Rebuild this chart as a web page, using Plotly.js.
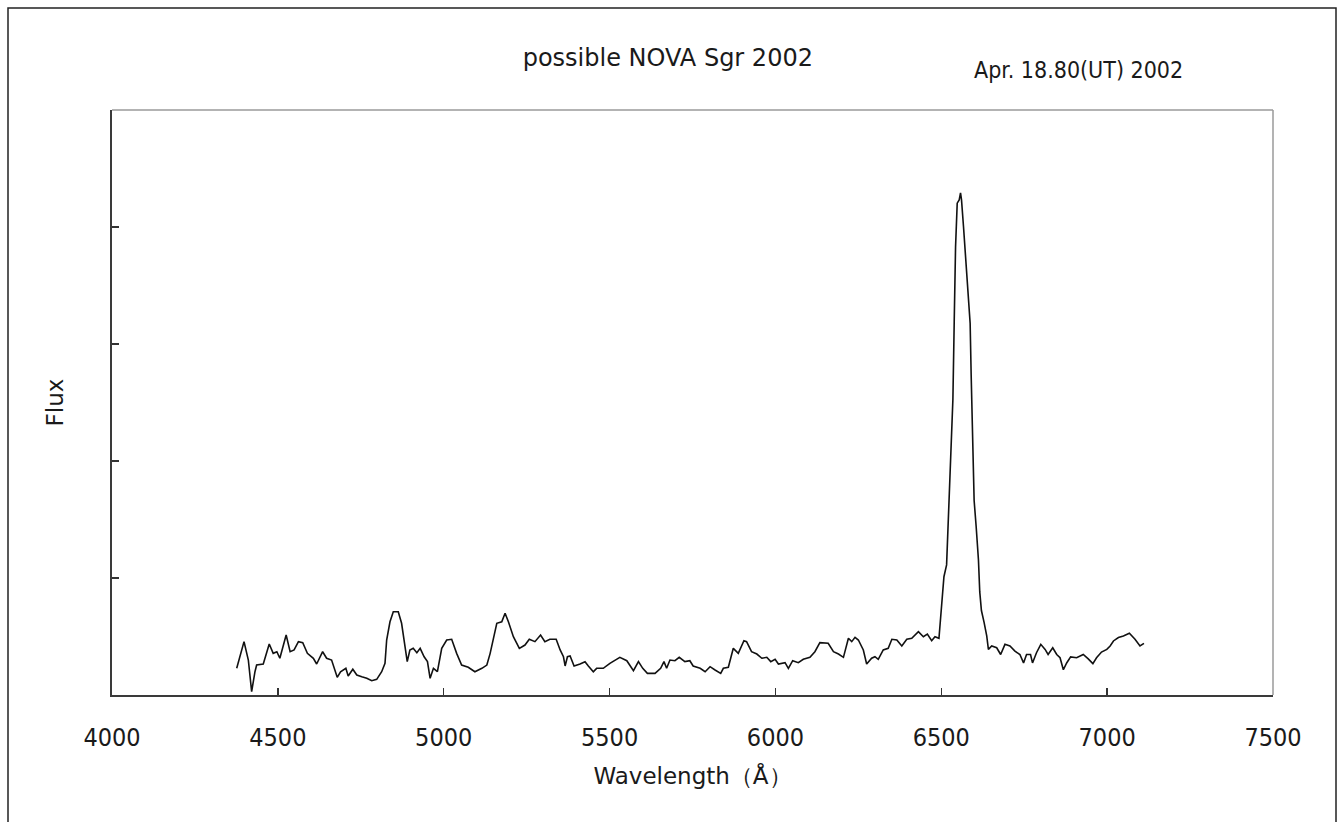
<!DOCTYPE html>
<html>
<head>
<meta charset="utf-8">
<script src="https://cdn.plot.ly/plotly-3.0.1.min.js"></script>
<style>
  html, body { margin: 0; padding: 0; background: #fff; }
  #chart { width: 1341px; height: 822px; }
</style>
</head>
<body>
<div id="chart"></div>
<script>
// Wavelength (Angstrom) samples
var wavelength = [
  4376,4398,4411,4421,4431,4436,4456,4474,4486,4497,
  4506,4525,4537,4549,4562,4575,4589,4607,4617,4635,
  4647,4662,4679,4689,4705,4712,4726,4738,4753,4768,
  4783,4798,4813,4823,4828,4838,4848,4863,4873,4883,
  4890,4898,4908,4919,4929,4941,4951,4959,4969,4981,
  4994,5009,5024,5039,5054,5074,
  5094,5115,5130,5140,5150,5160,5175,5185,5195,5210,
  5228,5245,5258,5275,5292,5305,5320,5339,5351,5361,
  5366,5373,5381,5393,5411,5426,5436,5451,5461,5481,
  5501,5531,5552,5572,5587,5600,5614,5637,5654,5664,
  5672,5682,5697,5710,5727,5742,5752,5773,5788,5803,
  5818,5835,
  5843,5858,5873,5888,5905,5913,5928,5944,5959,5974,
  5986,5999,6009,6029,6039,6052,6069,6084,6104,6119,
  6134,6159,6175,6190,6205,6213,6220,6230,6240,6250,
  6265,6275,6290,6300,6310,6325,6340,6351,6366,6381,
  6396,6411,6431,6446,6458,6471,6481,6493,
  6496,6501,6508,6516,6521,6529,6535,6539,6543,6548,
  6554,6558,6561,6567,6575,6582,6587,6590,6595,6599,
  6605,6612,6616,6621,6629,6637,6642,6652,6667,6679,
  6692,6707,6722,6737,6748,6757,6769,6775,6787,6800,
  6813,6822,6836,6848,6858,6868,6878,6890,6908,6928,
  6943,6957,6968,6983,6999,7009,7019,7034,7049,7067,
  7084,7099,7111
];

// Relative flux (arbitrary units, axis 0..5)
var flux = [
  0.228,0.456,0.299,0.028,0.199,0.256,0.265,0.436,0.356,0.370,
  0.314,0.513,0.370,0.385,0.456,0.447,0.356,0.314,0.265,0.370,
  0.314,0.299,0.151,0.199,0.228,0.162,0.220,0.171,0.156,0.143,
  0.122,0.134,0.199,0.271,0.470,0.626,0.712,0.712,0.613,0.399,
  0.285,0.385,0.399,0.362,0.399,0.327,0.285,0.143,0.228,0.199,
  0.399,0.470,0.476,0.356,0.256,0.237,
  0.199,0.228,0.256,0.356,0.498,0.613,0.626,0.698,0.626,0.498,
  0.399,0.427,0.476,0.456,0.513,0.456,0.476,0.476,0.385,0.327,
  0.248,0.327,0.333,0.248,0.265,0.285,0.248,0.199,0.228,0.228,
  0.271,0.322,0.293,0.208,0.285,0.228,0.185,0.185,0.228,0.285,
  0.228,0.299,0.293,0.322,0.285,0.293,0.248,0.228,0.199,0.242,
  0.214,0.185,
  0.228,0.237,0.399,0.356,0.464,0.456,0.370,0.350,0.314,0.322,
  0.285,0.305,0.265,0.276,0.228,0.293,0.276,0.305,0.322,0.370,
  0.447,0.442,0.370,0.350,0.322,0.399,0.485,0.456,0.493,0.470,
  0.385,0.265,0.314,0.327,0.305,0.385,0.399,0.476,0.470,0.419,
  0.476,0.485,0.541,0.498,0.521,0.464,0.498,0.485,
  0.592,0.794,1.011,1.112,1.459,1.993,2.528,3.192,3.828,4.204,
  4.232,4.291,4.232,4.002,3.684,3.395,3.178,2.744,2.094,1.662,
  1.444,1.156,0.881,0.722,0.621,0.505,0.390,0.419,0.404,0.346,
  0.433,0.419,0.375,0.346,0.274,0.346,0.346,0.274,0.361,0.433,
  0.390,0.346,0.404,0.346,0.318,0.216,0.274,0.326,0.318,0.346,
  0.309,0.268,0.318,0.367,0.390,0.419,0.462,0.491,0.505,0.528,
  0.477,0.419,0.442
];

var xTickVals = [4000, 4500, 5000, 5500, 6000, 6500, 7000, 7500];
var xTickText = ["4000", "4500", "5000", "5500", "6000", "6500", "7000", "7500"];
var yTickVals = [0, 1, 2, 3, 4, 5];

var titleText = "possible NOVA Sgr 2002";
var dateText = "Apr. 18.80(UT) 2002";
var xTitle = "Wavelength（Å）";
var yTitle = "Flux";

var trace = {
  x: wavelength,
  y: flux,
  type: "scatter",
  mode: "lines",
  line: { color: "#111111", width: 1.6 },
  hoverinfo: "x+y"
};

var textFont = { family: "DejaVu Sans, Liberation Sans, sans-serif", size: 23, color: "#1a1a1a" };

var layout = {
  width: 1341,
  height: 822,
  paper_bgcolor: "#ffffff",
  plot_bgcolor: "#ffffff",
  showlegend: false,
  margin: { l: 112, r: 68, t: 110, b: 127, pad: 0 },
  title: {
    text: titleText,
    font: { family: "DejaVu Sans, Liberation Sans, sans-serif", size: 24, color: "#1a1a1a" },
    xref: "container", x: 0.498, xanchor: "center",
    yref: "container", y: 1 - 58 / 822, yanchor: "middle"
  },
  xaxis: {
    range: [4000, 7500],
    tickmode: "array",
    tickvals: xTickVals,
    ticktext: xTickText,
    ticks: "inside",
    ticklen: 7,
    tickwidth: 1.5,
    tickcolor: "#333333",
    ticklabelstandoff: 19,
    tickfont: { family: "DejaVu Sans Condensed, DejaVu Sans, sans-serif", size: 25, color: "#1a1a1a" },
    showline: true,
    linecolor: "#3a3a3a",
    linewidth: 2,
    showgrid: false,
    zeroline: false,
    fixedrange: true,
    title: {
      text: xTitle,
      font: textFont,
      standoff: 17
    }
  },
  yaxis: {
    range: [0, 5],
    tickmode: "array",
    tickvals: yTickVals,
    ticks: "inside",
    ticklen: 7,
    tickwidth: 1.5,
    tickcolor: "#333333",
    showticklabels: false,
    showline: true,
    linecolor: "#3a3a3a",
    linewidth: 2,
    showgrid: false,
    zeroline: false,
    fixedrange: true,
    title: {
      text: yTitle,
      font: textFont,
      standoff: 40
    }
  },
  annotations: [
    {
      text: dateText,
      xref: "paper", yref: "paper",
      x: (1078 - 112) / 1161, y: (695 - 70) / 585,
      xanchor: "center", yanchor: "middle",
      showarrow: false,
      font: { family: "DejaVu Sans Condensed, DejaVu Sans, sans-serif", size: 23, color: "#1a1a1a" }
    }
  ],
  shapes: [
    // top and right edges of the plot frame (lighter grey)
    { type: "line", xref: "paper", yref: "paper", x0: 0, x1: 1, y0: 1, y1: 1,
      line: { color: "#9a9a9a", width: 1.5 } },
    { type: "line", xref: "paper", yref: "paper", x0: 1, x1: 1, y0: 0, y1: 1,
      line: { color: "#9a9a9a", width: 1.5 } },
    // outer picture frame
    { type: "rect", xref: "paper", yref: "paper",
      x0: (8 - 112) / 1161, x1: (1336 - 112) / 1161,
      y0: (695 - 860) / 585, y1: (695 - 8) / 585,
      line: { color: "#222222", width: 1.5 }, fillcolor: "rgba(0,0,0,0)" }
  ]
};

Plotly.newPlot("chart", [trace], layout, { displayModeBar: false, staticPlot: true });
</script>
</body>
</html>
